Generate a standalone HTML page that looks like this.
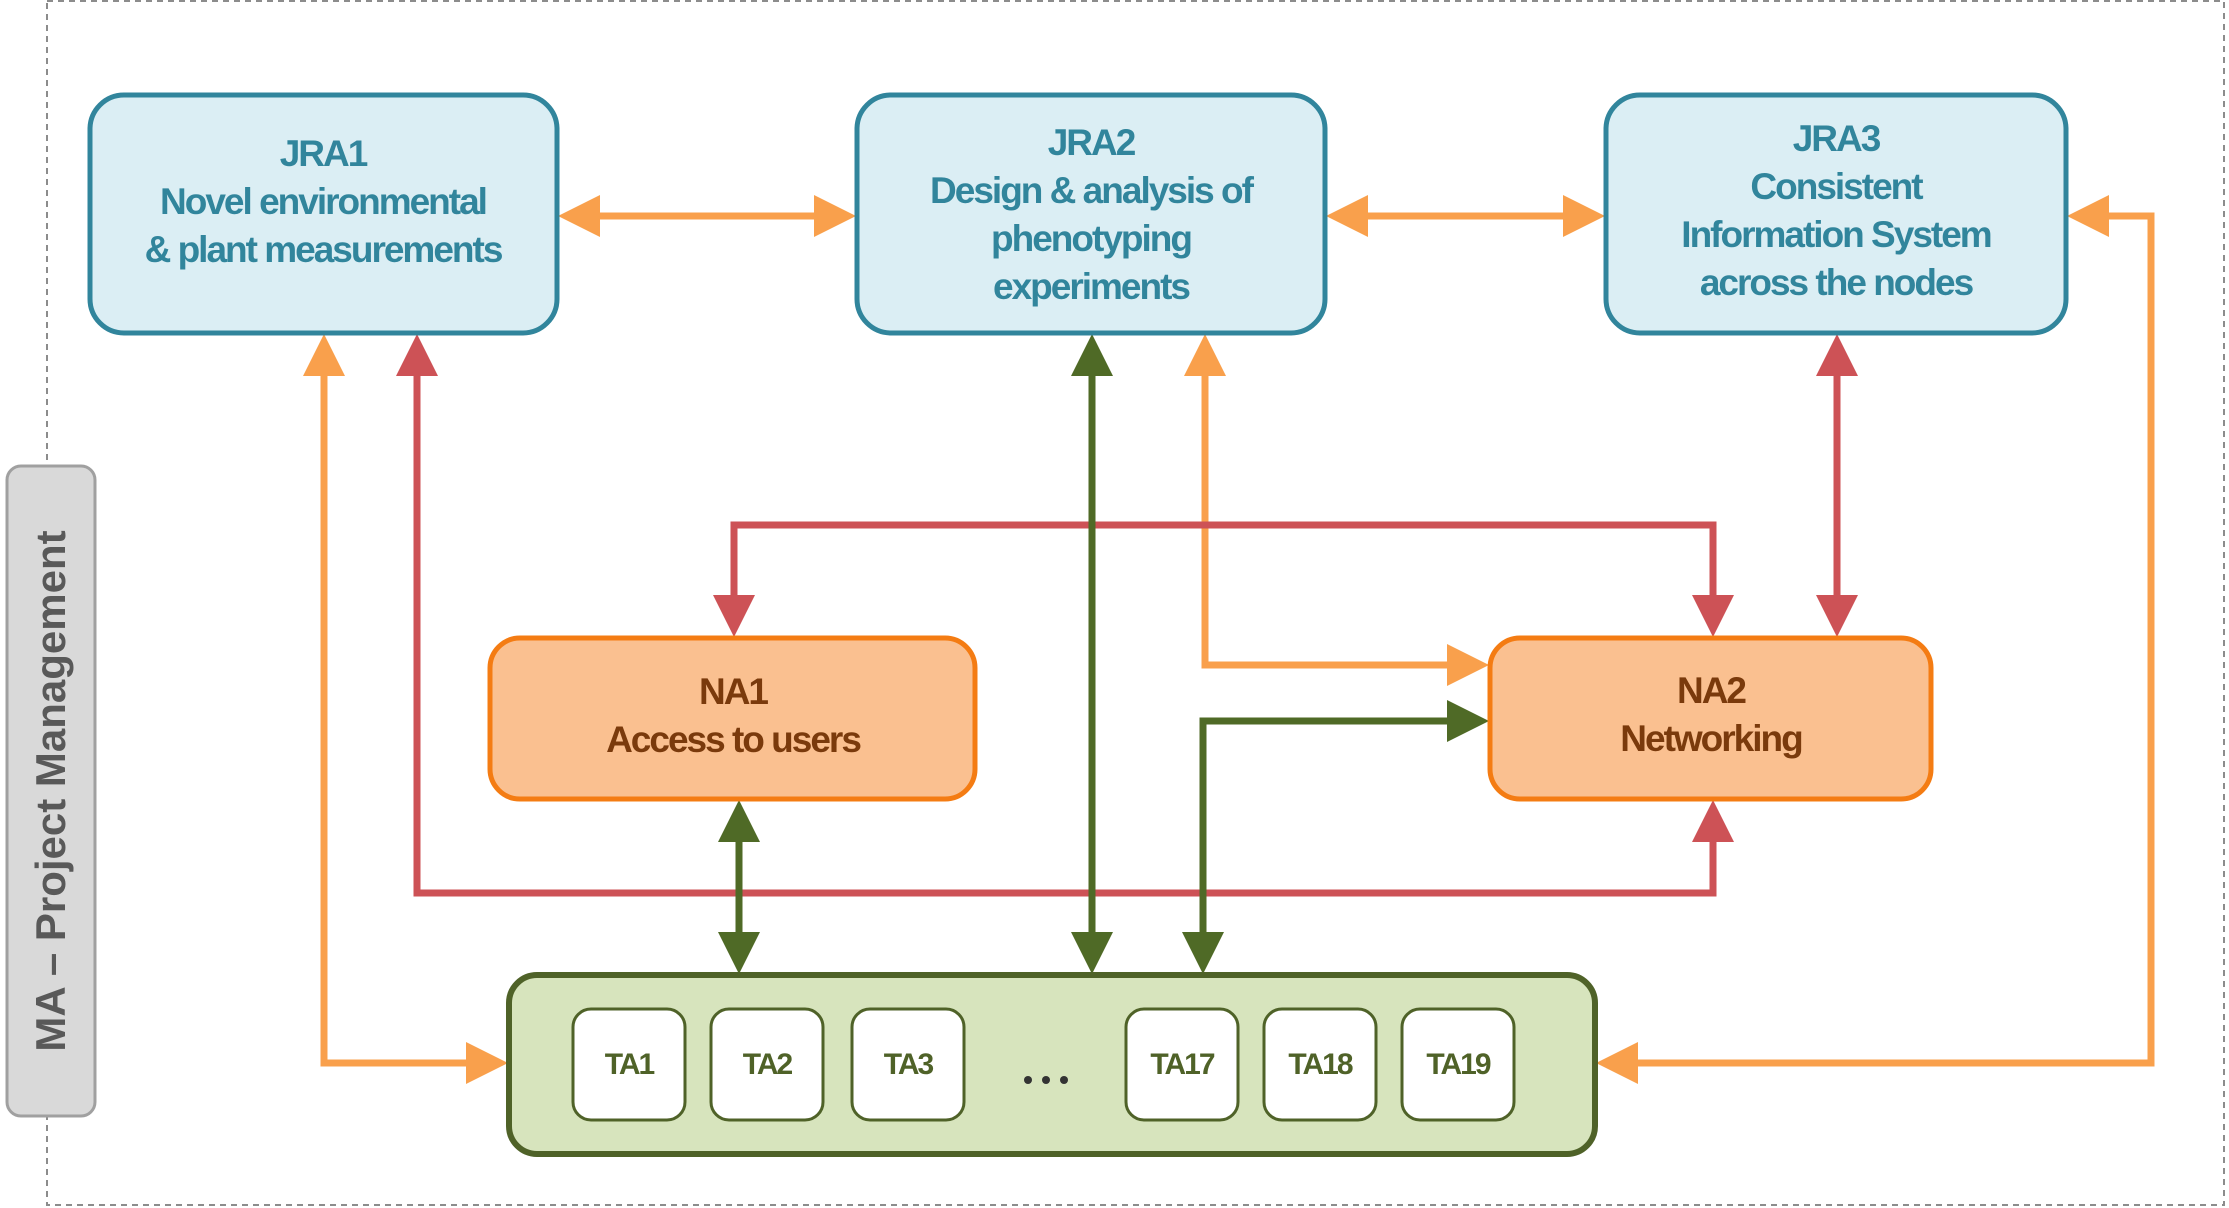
<!DOCTYPE html>
<html><head><meta charset="utf-8"><style>
html,body{margin:0;padding:0;background:#fff;}
svg{display:block;}
text{font-family:"Liberation Sans",sans-serif;font-weight:bold;}
</style></head><body>
<svg width="2229" height="1208" viewBox="0 0 2229 1208" xmlns="http://www.w3.org/2000/svg">
<defs>
<marker id="ao" markerWidth="6" markerHeight="6" refX="5" refY="3" orient="auto-start-reverse" markerUnits="strokeWidth"><path d="M0,0 L6,3 L0,6 z" fill="#f9a04c"/></marker>
<marker id="ar" markerWidth="6" markerHeight="6" refX="5" refY="3" orient="auto-start-reverse" markerUnits="strokeWidth"><path d="M0,0 L6,3 L0,6 z" fill="#cd5256"/></marker>
<marker id="ag" markerWidth="6" markerHeight="6" refX="5" refY="3" orient="auto-start-reverse" markerUnits="strokeWidth"><path d="M0,0 L6,3 L0,6 z" fill="#4f6a26"/></marker>
</defs>
<rect x="47" y="1" width="2177" height="1204" fill="none" stroke="#8c8c8c" stroke-width="2" stroke-dasharray="6,5"/>
<rect x="7" y="466" width="88" height="650" rx="14" fill="#d9d9d9" stroke="#a0a0a0" stroke-width="3"/>
<text transform="translate(65,791) rotate(-90)" text-anchor="middle" font-size="42" fill="#595959">MA – Project Management</text>

<g fill="none" stroke-width="7">
<line x1="565" y1="216" x2="849" y2="216" stroke="#f9a04c" marker-start="url(#ao)" marker-end="url(#ao)"/>
<line x1="1333" y1="216" x2="1598" y2="216" stroke="#f9a04c" marker-start="url(#ao)" marker-end="url(#ao)"/>
<polyline points="324,341 324,1063 501,1063" stroke="#f9a04c" marker-start="url(#ao)" marker-end="url(#ao)"/>
<polyline points="2074,216 2151,216 2151,1063 1603,1063" stroke="#f9a04c" marker-start="url(#ao)" marker-end="url(#ao)"/>
<polyline points="1205,341 1205,665 1482,665" stroke="#f9a04c" marker-start="url(#ao)" marker-end="url(#ao)"/>
<polyline points="417,341 417,893 1713,893 1713,807" stroke="#cd5256" marker-start="url(#ar)" marker-end="url(#ar)"/>
<polyline points="734,630 734,525 1713,525 1713,630" stroke="#cd5256" marker-start="url(#ar)" marker-end="url(#ar)"/>
<line x1="1837" y1="341" x2="1837" y2="630" stroke="#cd5256" marker-start="url(#ar)" marker-end="url(#ar)"/>
<line x1="1092" y1="341" x2="1092" y2="967" stroke="#4f6a26" marker-start="url(#ag)" marker-end="url(#ag)"/>
<line x1="739" y1="807" x2="739" y2="967" stroke="#4f6a26" marker-start="url(#ag)" marker-end="url(#ag)"/>
<polyline points="1203,967 1203,721 1482,721" stroke="#4f6a26" marker-start="url(#ag)" marker-end="url(#ag)"/>
</g>

<g fill="#dbeef4" stroke="#31859c" stroke-width="5">
<rect x="90" y="95" width="467" height="238" rx="34"/>
<rect x="857" y="95" width="468" height="238" rx="34"/>
<rect x="1606" y="95" width="460" height="238" rx="34"/>
</g>
<g fill="#31859c" font-size="37" text-anchor="middle" letter-spacing="-2">
<text x="323" y="166">JRA1</text>
<text x="323" y="214">Novel environmental</text>
<text x="323" y="262">&amp; plant measurements</text>
<text x="1091" y="155">JRA2</text>
<text x="1091" y="203">Design &amp; analysis of</text>
<text x="1091" y="251">phenotyping</text>
<text x="1091" y="299">experiments</text>
<text x="1836" y="151">JRA3</text>
<text x="1836" y="199">Consistent</text>
<text x="1836" y="247">Information System</text>
<text x="1836" y="295">across the nodes</text>
</g>

<g fill="#fac090" stroke="#f47c13" stroke-width="5">
<rect x="490" y="638" width="485" height="161" rx="30"/>
<rect x="1490" y="638" width="441" height="161" rx="30"/>
</g>
<g fill="#7a3a0c" font-size="37" text-anchor="middle" letter-spacing="-2">
<text x="733" y="704">NA1</text>
<text x="733" y="752">Access to users</text>
<text x="1711" y="703">NA2</text>
<text x="1711" y="751">Networking</text>
</g>

<rect x="509" y="975" width="1086" height="179" rx="28" fill="#d7e4bd" stroke="#4f6228" stroke-width="6"/>
<g fill="#fff" stroke="#4f6228" stroke-width="3">
<rect x="573" y="1009" width="112" height="111" rx="18"/>
<rect x="711" y="1009" width="112" height="111" rx="18"/>
<rect x="852" y="1009" width="112" height="111" rx="18"/>
<rect x="1126" y="1009" width="112" height="111" rx="18"/>
<rect x="1264" y="1009" width="112" height="111" rx="18"/>
<rect x="1402" y="1009" width="112" height="111" rx="18"/>
</g>
<g fill="#4f6228" font-size="30" text-anchor="middle" letter-spacing="-2">
<text x="629" y="1074">TA1</text>
<text x="767" y="1074">TA2</text>
<text x="908" y="1074">TA3</text>
<text x="1182" y="1074">TA17</text>
<text x="1320" y="1074">TA18</text>
<text x="1458" y="1074">TA19</text>
</g>
<g fill="#333">
<circle cx="1028" cy="1080" r="4"/><circle cx="1046" cy="1080" r="4"/><circle cx="1064" cy="1080" r="4"/>
</g>
</svg>
</body></html>
